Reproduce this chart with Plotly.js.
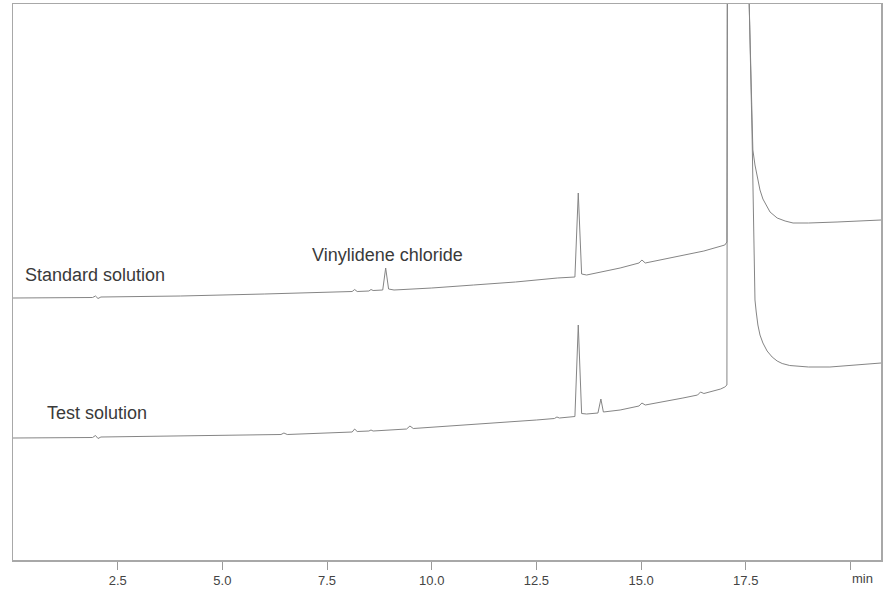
<!DOCTYPE html>
<html>
<head>
<meta charset="utf-8">
<script src="https://cdn.plot.ly/plotly-3.0.1.min.js"></script>
<style>html,body{margin:0;padding:0;background:#fff;}#chart{width:886px;height:591px;}</style>
</head>
<body>
<div id="chart"></div>
<script>
// Retention time (min) and detector response (arbitrary units)
const stdTime = [0, 1.9, 1.97, 2.03, 2.1, 4.0, 6.0, 7.5, 8.1, 8.16, 8.22, 8.5, 8.55, 8.6, 8.83, 8.9, 8.97, 9.1, 10.0, 11.0, 12.0, 13.0, 13.42, 13.5, 13.58, 13.7, 14.5, 14.95, 15.02, 15.1, 16.0, 16.5, 17.0, 17.05, 17.08, 17.55, 17.58, 17.65, 17.67, 17.72, 17.77, 17.84, 17.91, 18.01, 18.08, 18.25, 18.44, 18.63, 19.0, 19.68, 20.2, 20.73];
const stdSignal = [262, 262.5, 264, 261.5, 263, 264, 266, 267.5, 268.5, 270.5, 268.5, 269, 270.5, 269.5, 270, 292, 271, 270, 272, 275, 278, 282, 283, 367, 286, 285, 292, 297, 300, 297, 305, 309, 315, 318, 1200, 1200, 560, 427, 410, 395, 383, 370, 361, 353, 348, 342, 339, 337, 337, 338, 339, 340];

const testTime = [0, 1.9, 1.97, 2.03, 2.1, 4.0, 6.4, 6.47, 6.55, 8.1, 8.16, 8.22, 8.5, 8.55, 8.6, 9.4, 9.48, 9.56, 10.5, 11.5, 12.5, 12.93, 12.99, 13.05, 13.42, 13.5, 13.58, 13.7, 13.97, 14.04, 14.1, 14.5, 14.95, 15.02, 15.1, 16.0, 16.35, 16.42, 16.5, 16.9, 17.0, 17.05, 17.08, 17.55, 17.58, 17.65, 17.72, 17.75, 17.79, 17.84, 17.91, 18.01, 18.13, 18.25, 18.37, 18.55, 19.0, 19.51, 20.1, 20.73];
const testSignal = [122, 122.5, 124.5, 121.5, 123, 124, 125.5, 127, 125.5, 128, 131, 128.5, 129, 130, 129, 131, 134, 131.5, 134, 137, 140, 141.5, 143, 142, 143.5, 235, 146.5, 146, 147, 161, 148, 150, 154, 157, 155, 162, 165, 168, 166.5, 171, 173, 175, 1200, 1200, 560, 427, 260, 248, 235, 225, 217, 209, 203, 199, 196.5, 194.5, 193, 193, 195, 197];

const tickVals = [2.5, 5.0, 7.5, 10.0, 12.5, 15.0, 17.5, 20.0];
const tickText = ['2.5', '5.0', '7.5', '10.0', '12.5', '15.0', '17.5', ''];
const unitLabel = 'min';

const labelText = ['Standard solution', 'Vinylidene chloride', 'Test solution'];
const labelX = [1.96, 8.95, 2.0];
const labelY = [285, 305, 147];

const lineStyle = {color: '#858585', width: 1};
const traces = [
  {x: stdTime, y: stdSignal, type: 'scatter', mode: 'lines', line: lineStyle, name: 'Standard solution', hoverinfo: 'x+y'},
  {x: testTime, y: testSignal, type: 'scatter', mode: 'lines', line: lineStyle, name: 'Test solution', hoverinfo: 'x+y'}
];

const annotations = labelText.map((t, i) => ({
  x: labelX[i], y: labelY[i], xref: 'x', yref: 'y', text: t, showarrow: false,
  xanchor: 'center', yanchor: 'middle',
  font: {family: 'Liberation Sans, Arial, sans-serif', size: 18, color: '#3a3a3a'}
}));
annotations.push({
  x: 20.28, y: -0.0324, xref: 'x', yref: 'paper', text: unitLabel, showarrow: false,
  xanchor: 'center', yanchor: 'middle',
  font: {family: 'Liberation Sans, Arial, sans-serif', size: 13, color: '#444'}
});

const layout = {
  width: 886, height: 591,
  margin: {l: 13, r: 5, t: 4, b: 31},
  paper_bgcolor: '#ffffff', plot_bgcolor: '#ffffff',
  showlegend: false,
  xaxis: {
    range: [0, 20.73], showgrid: false, zeroline: false,
    showline: true, mirror: true, linecolor: '#a8a8a8', linewidth: 1.5,
    tickmode: 'array', tickvals: tickVals, ticktext: tickText,
    ticks: 'outside', ticklen: 8, tickwidth: 1, tickcolor: '#9a9a9a',
    tickfont: {family: 'Liberation Sans, Arial, sans-serif', size: 13, color: '#444'}
  },
  yaxis: {
    range: [0, 556], showgrid: false, zeroline: false,
    showline: true, mirror: true, linecolor: '#a8a8a8', linewidth: 1.5,
    showticklabels: false, ticks: ''
  },
  annotations: annotations
};

Plotly.newPlot('chart', traces, layout, {displayModeBar: false, staticPlot: true});
</script>
</body>
</html>
